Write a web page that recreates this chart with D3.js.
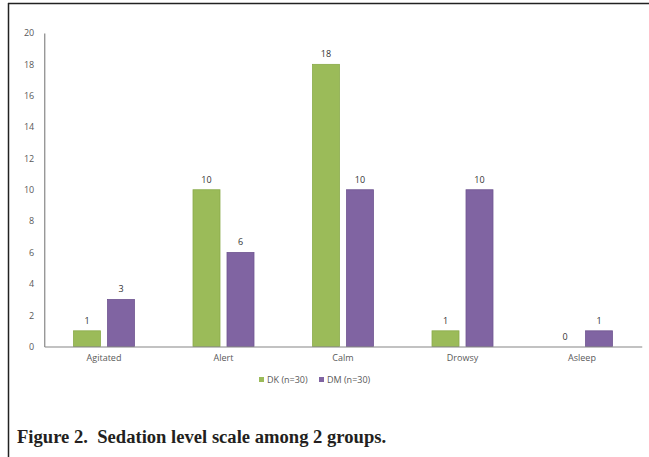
<!DOCTYPE html>
<html>
<head>
<meta charset="utf-8">
<script src="https://cdn.jsdelivr.net/npm/d3@7"></script>
<style>
  html, body { margin: 0; padding: 0; background: #fff; }
  svg { display: block; }
</style>
</head>
<body>
<svg id="chart" width="649" height="457"></svg>
<script>
// Sedation level counts per group
const categories = ["Agitated", "Alert", "Calm", "Drowsy", "Asleep"];
const seriesNames = ["DK (n=30)", "DM (n=30)"];
const dkValues = [1, 10, 18, 1, 0];
const dmValues = [3, 6, 10, 10, 1];
const yTicks = [0, 2, 4, 6, 8, 10, 12, 14, 16, 18, 20];
const captionText = "Figure 2.  Sedation level scale among 2 groups.";

const colors = ["#9bbb59", "#8064a2"];
const strokes = ["#8aab4a", "#6f5591"];
const labelFont = "'Open Sans', 'DejaVu Sans', sans-serif";

const svg = d3.select("#chart");

// Frame (top and left edges of the figure box)
svg.append("line").attr("x1", 8).attr("x2", 649).attr("y1", 3.5).attr("y2", 3.5)
  .attr("stroke", "#222").attr("stroke-width", 1.5);
svg.append("line").attr("x1", 8.5).attr("x2", 8.5).attr("y1", 3).attr("y2", 457)
  .attr("stroke", "#222").attr("stroke-width", 1.5);

const plot = { left: 44.25, right: 641.75, top: 33, bottom: 346.5 };

const x = d3.scaleBand().domain(categories).range([plot.left, plot.right]);
const y = d3.scaleLinear().domain([0, 20]).range([plot.bottom, plot.top]);

const barW = 27, barGap = 7;
const offsets = [-(barW + barGap / 2), barGap / 2];

const data = categories.map((c, i) => ({ cat: c, vals: [dkValues[i], dmValues[i]] }));

// Bars
const groups = svg.append("g").selectAll("g").data(data).join("g")
  .attr("transform", d => `translate(${x(d.cat) + x.bandwidth() / 2},0)`);

groups.selectAll("rect").data(d => d.vals.map((v, k) => ({ v, k }))).join("rect")
  .attr("x", d => offsets[d.k])
  .attr("y", d => y(d.v))
  .attr("width", barW)
  .attr("height", d => y(0) - y(d.v))
  .attr("fill", d => colors[d.k])
  .attr("stroke", d => d.v > 0 ? strokes[d.k] : "none")
  .attr("stroke-width", 0.8);

// Value labels
groups.selectAll("text").data(d => d.vals.map((v, k) => ({ v, k }))).join("text")
  .attr("x", d => offsets[d.k] + barW / 2)
  .attr("y", d => y(d.v) - 7)
  .attr("text-anchor", "middle")
  .attr("font-family", labelFont)
  .attr("font-size", 9)
  .attr("fill", "#333")
  .text(d => d.v);

// Y axis
const yAxis = svg.append("g")
  .attr("transform", `translate(${plot.left},0)`)
  .call(d3.axisLeft(y).tickValues(yTicks).tickSize(0).tickPadding(10));
yAxis.select(".domain").attr("stroke", "#868686").attr("stroke-width", 1.2);
yAxis.selectAll("text").attr("font-family", labelFont).attr("font-size", 9).attr("fill", "#595959");

// X axis
const xAxis = svg.append("g")
  .attr("transform", `translate(0,${plot.bottom})`)
  .call(d3.axisBottom(x).tickSize(0).tickPadding(8));
xAxis.select(".domain").attr("stroke", "#868686").attr("stroke-width", 1.2);
xAxis.selectAll("text").attr("font-family", labelFont).attr("font-size", 9).attr("fill", "#595959");

// Legend
const legend = svg.append("g").attr("transform", "translate(259,382)");
const legendX = [0, 60];
seriesNames.forEach((name, k) => {
  const g = legend.append("g").attr("transform", `translate(${legendX[k]},0)`);
  g.append("rect").attr("x", 0).attr("y", -5).attr("width", 5).attr("height", 5).attr("fill", colors[k]);
  g.append("text").attr("x", 8).attr("y", 0.5)
    .attr("font-family", labelFont).attr("font-size", 9).attr("fill", "#595959")
    .text(name);
});

// Caption
svg.append("text")
  .attr("x", 17).attr("y", 443)
  .attr("font-family", "'Liberation Serif', 'Times New Roman', serif")
  .attr("font-weight", "bold")
  .attr("font-size", 18.6)
  .attr("fill", "#231f20")
  .attr("xml:space", "preserve")
  .style("white-space", "pre")
  .text(captionText);
</script>
</body>
</html>
